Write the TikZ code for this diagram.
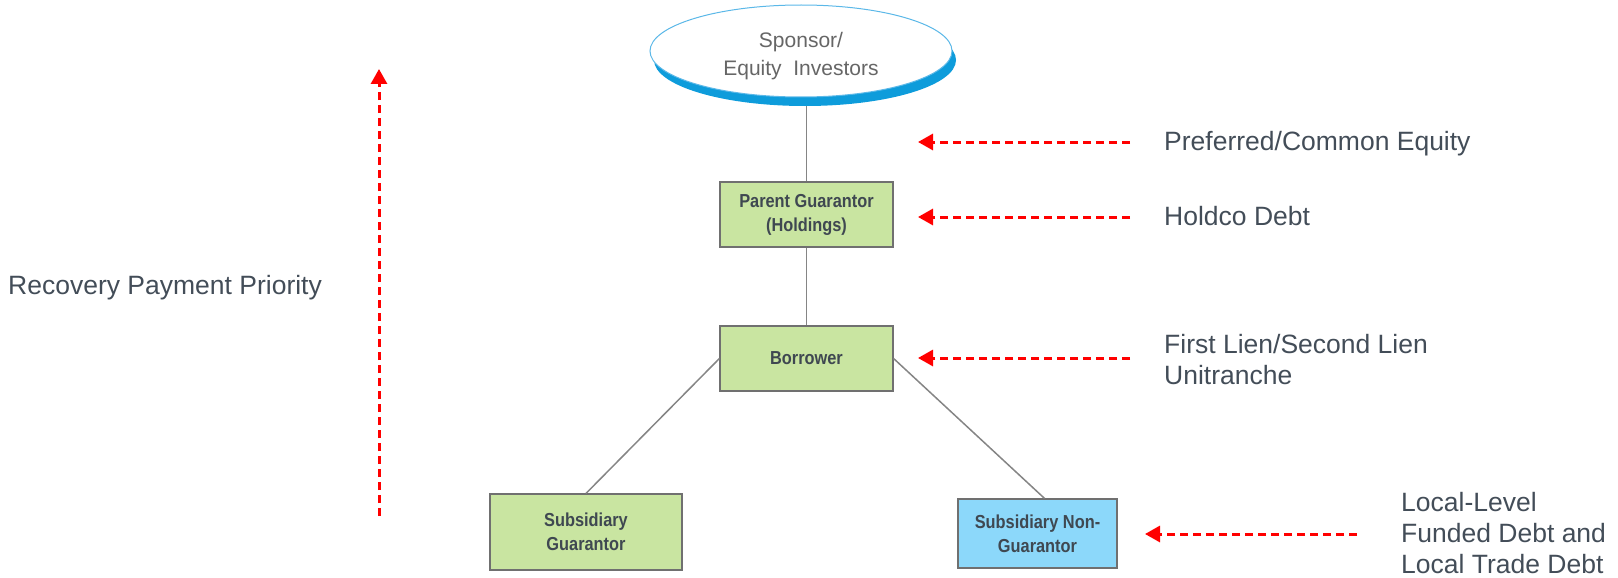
\documentclass[tikz,border=0pt]{standalone}
\usepackage{fontspec}
\setmainfont{Liberation Sans}
\newfontfamily\boxfont[FakeStretch=0.87]{Liberation Sans}
\usetikzlibrary{arrows.meta,shapes.geometric,shadows}
\definecolor{boxgreen}{HTML}{C9E5A1}
\definecolor{boxblue}{HTML}{8CD8FA}
\definecolor{boxgray}{HTML}{707070}
\definecolor{linegray}{HTML}{858585}
\definecolor{darktext}{HTML}{3F4851}
\definecolor{labeltext}{HTML}{434D58}
\definecolor{ovaltext}{HTML}{666666}
\definecolor{ovalline}{HTML}{5BB8E8}
\definecolor{ovalshadow}{HTML}{0E9CDB}
\definecolor{prioritired}{HTML}{FF0000}
\begin{document}
\begin{tikzpicture}[x=1pt,y=-1pt,
  entity/.style={draw=boxgray, line width=1.2pt, minimum width=173pt, minimum height=65pt,
    inner sep=0pt, align=center, font=\boxfont\bfseries\fontsize{18.8}{24}\selectfont, text=darktext},
  greenbox/.style={entity, fill=boxgreen},
  bluebox/.style={entity, fill=boxblue},
  oval/.style={ellipse, draw=ovalline, line width=1pt, fill=white, minimum width=302pt, minimum height=92pt,
    inner sep=0pt, align=center, font=\fontsize{21}{28}\selectfont, text=ovaltext,
    general shadow={fill=ovalshadow, shadow xshift=4pt, shadow yshift=-9pt}},
  link/.style={draw=linegray, line width=1.5pt},
  priority/.style={draw=prioritired, line width=3pt, dash pattern=on 8pt off 5pt,
    -{Triangle[length=15pt,width=16pt]}},
  label/.style={anchor=west, align=left, inner sep=0pt, font=\fontsize{26.5}{31}\selectfont, text=labeltext}
]
\useasboundingbox (0,0) rectangle (1618,578);

% entities
\node[greenbox] (parent) at (806.5,214.5) {Parent Guarantor\\(Holdings)};
\node[greenbox] (borrower) at (806.5,358.5) {Borrower};
\node[greenbox, minimum width=192pt, minimum height=76pt] (subg) at (586,532) {Subsidiary\\Guarantor};
\node[bluebox, minimum width=159pt, minimum height=69pt] (subng) at (1037.5,533.5) {Subsidiary Non-\\Guarantor};

% connectors
\coordinate (ovalfoot) at (806.5,60);
\draw[link] (ovalfoot) -- (parent.north);
\node[oval] (sponsor) at (801,51) {\rule{0pt}{26pt}Sponsor/\\Equity\ \ Investors};
\draw[link] (parent.south) -- (borrower.north);
\draw[link] (borrower.west) -- (subg.north);
\draw[link] (borrower.east) -- ([xshift=7pt]subng.north);

% labels
\node[label] (pref) at (1164,144) {Preferred/Common Equity};
\node[label] (holdco) at (1164,216) {Holdco Debt};
\node[label] (lien) at (1164,360) {First Lien/Second Lien\\Unitranche};
\node[label] (local) at (1401,533) {Local-Level\\Funded Debt and\\Local Trade Debt};
\node[label] (recovery) at (8,288) {Recovery Payment Priority};

% priority arrows
\coordinate (v0) at (379,516);
\coordinate (v1) at (379,69);
\coordinate (a1t) at (1130,142);
\coordinate (a1h) at (918,142);
\coordinate (a2t) at (1130,217);
\coordinate (a2h) at (918,217);
\coordinate (a3t) at (1130,358);
\coordinate (a3h) at (918,358);
\coordinate (a4t) at (1357,534);
\coordinate (a4h) at (1145,534);
\draw[priority] (v0) -- (v1);
\draw[priority] (a1t) -- (a1h);
\draw[priority] (a2t) -- (a2h);
\draw[priority] (a3t) -- (a3h);
\draw[priority] (a4t) -- (a4h);
\end{tikzpicture}
\end{document}
